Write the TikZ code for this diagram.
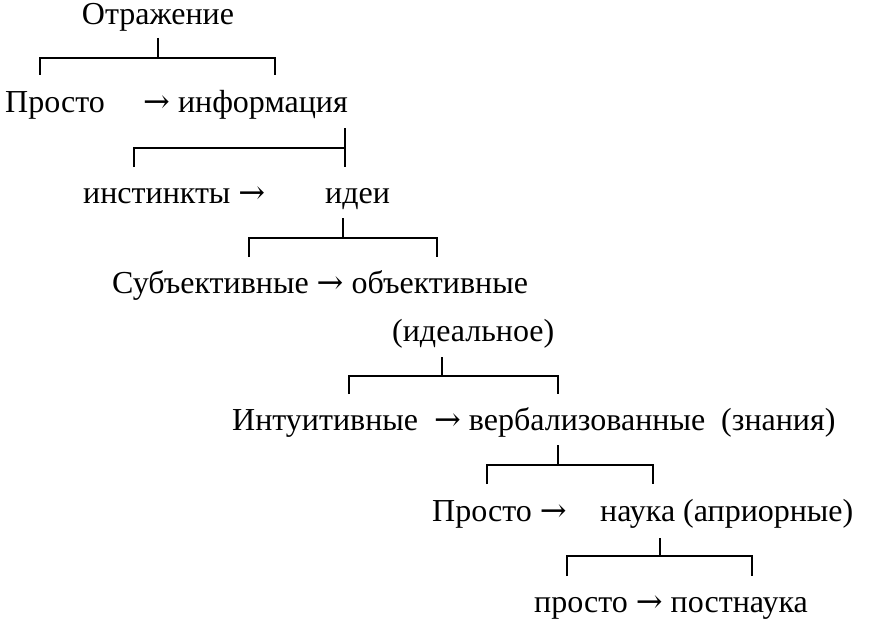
\documentclass[tikz,border=0pt]{standalone}
\usepackage{fontspec}
\setmainfont{Liberation Serif}
\newfontfamily\arrf{DejaVu Serif}
\newcommand{\arr}{{\arrf →}}
\begin{document}
\begin{tikzpicture}[x=1pt,y=-1pt,
  lbl/.style={anchor=base west,inner sep=0pt,font=\fontsize{32}{38}\selectfont},
  br/.style={line width=2.6pt}]
\useasboundingbox (0,0) rectangle (890,623);
\node[lbl,anchor=base] (t0) at (158,25) {Отражение};
\node[lbl] (a1) at (5,113) {Просто};
\node[lbl] (b1) at (143,113) {\arr\ информация};
\node[lbl] (a2) at (83,203) {инстинкты \arr};
\node[lbl] (b2) at (325,203) {идеи};
\node[lbl] (a3) at (112,293) {Субъективные \arr\ объективные};
\node[lbl] (a3b) at (392,341) {(идеальное)};
\node[lbl] (a4) at (232,430) {Интуитивные \ \arr\ вербализованные \ (знания)};
\node[lbl] (a5) at (432,521) {Просто \arr};
\node[lbl] (b5) at (600,521) {наука (априорные)};
\node[lbl] (a6) at (534,612) {просто \arr\ постнаука};
\draw[br] (158,38) -- (158,58);
\draw[br] (40,75) -- (40,58) -- (275,58) -- (275,75);
\draw[br] (345,128) -- (345,148);
\draw[br] (134,167) -- (134,148) -- (345,148) -- (345,167);
\draw[br] (343,218) -- (343,238);
\draw[br] (249,257) -- (249,238) -- (437,238) -- (437,257);
\draw[br] (442,357) -- (442,376);
\draw[br] (349,394) -- (349,376) -- (558,376) -- (558,394);
\draw[br] (558,445) -- (558,465);
\draw[br] (487,484) -- (487,465) -- (653,465) -- (653,484);
\draw[br] (660,538) -- (660,556);
\draw[br] (567,576) -- (567,556) -- (752,556) -- (752,576);
\end{tikzpicture}
\end{document}
